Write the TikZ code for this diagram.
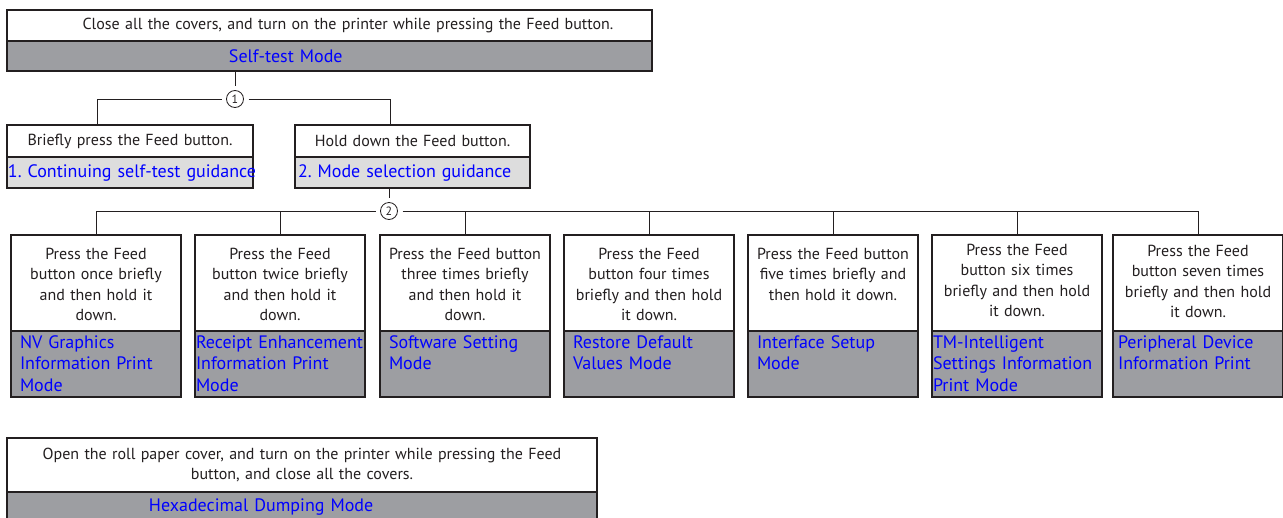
\documentclass[tikz,border=0pt]{standalone}
\usepackage{fontspec}
\setmainfont{PT Sans}
\usetikzlibrary{positioning}
\definecolor{modegray}{RGB}{157,158,162}
\definecolor{guidegray}{RGB}{221,221,221}
\definecolor{modeblue}{RGB}{0,0,255}
\definecolor{inkgray}{RGB}{35,31,32}
\tikzset{
    cell/.style={draw=inkgray, line width=1.2pt, anchor=north west, inner sep=0pt, outer sep=0pt, text=inkgray, font=\fontsize{16}{20.5}\selectfont},
    askcell/.style={cell, fill=white, align=center},
    modecell/.style={cell, fill=modegray, text=modeblue, align=left, font=\fontsize{18}{21.5}\selectfont},
    guidecell/.style={cell, fill=guidegray, text=modeblue, align=left, font=\fontsize{18}{21.5}\selectfont},
    presscell/.style={askcell, text width=162pt, inner xsep=4pt, text height=24pt, text depth=72pt},
    pickcell/.style={modecell, text width=152pt, inner xsep=9pt, text height=17pt, text depth=49pt},
    stepmark/.style={circle, draw=inkgray, line width=0.8pt, inner sep=0pt, minimum size=17pt, outer sep=5pt, text=inkgray, font=\fontsize{12}{12}\selectfont},
    wire/.style={draw=inkgray, line width=1pt}
}

\begin{document}
\begin{tikzpicture}[x=1pt, y=-1pt]
\useasboundingbox (0,0) rectangle (1283,517);

% --- Power on with the Feed button held ---
\node[askcell, text width=645pt, minimum height=31pt] (poweron) at (7,10) {\hspace*{37pt}Close all the covers, and turn on the printer while pressing the Feed button.};
\node[modecell, text width=645pt, minimum height=30pt] (selftest) at (7,41) {\hspace*{222pt}Self-test Mode};

% --- Step 1: short press or long press ---
\node[stepmark] (step1) at (235,99) {1};
\node[askcell, text width=246pt, minimum height=32pt] (briefly) at (7,125) {Briefly press the Feed button.};
\node[guidecell, text width=244pt, inner xsep=1pt, minimum height=31pt, below=0pt of briefly] (guide) {\mbox{1.\ Continuing self-test guidance}};
\node[askcell, text width=235pt, minimum height=32pt] (holddown) at (295,125) {Hold down the Feed button.};
\node[guidecell, text width=229pt, inner xsep=3pt, minimum height=31pt, below=0pt of holddown] (modesel) {\mbox{2.\ Mode selection guidance}};

\draw[wire] (step1) -- (step1 |- selftest.south);
\draw[wire] (step1) -| ([xshift=-33pt]briefly.north);
\draw[wire] (step1) -| ([xshift=-22.5pt]holddown.north);

% --- Step 2: number of presses picks the mode ---
\node[stepmark] (step2) at (389,211) {2};

\node[presscell] (press1) at (11,235) {Press the Feed\\button once briefly\\and then hold it\\down.};
\node[pickcell, below=0pt of press1] (mode1) {NV Graphics\\Information Print\\Mode};

\node[presscell] (press2) at (195,235) {Press the Feed\\button twice briefly\\and then hold it\\down.};
\node[pickcell, text width=168pt, inner xsep=1pt, below=0pt of press2] (mode2) {Receipt Enhancement\\Information Print\\Mode};

\node[presscell] (press3) at (380,235) {Press the Feed button\\three times briefly\\and then hold it\\down.};
\node[pickcell, below=0pt of press3] (mode3) {Software Setting\\Mode};

\node[presscell] (press4) at (564,235) {Press the Feed\\button four times\\briefly and then hold\\it down.};
\node[pickcell, below=0pt of press4] (mode4) {Restore Default\\Values Mode};

\node[presscell] (press5) at (748,235) {Press the Feed button\\five times briefly and\\then hold it down.};
\node[pickcell, below=0pt of press5] (mode5) {Interface Setup\\Mode};

\node[presscell, text height=20pt, text depth=76pt] (press6) at (932,235) {Press the Feed\\button six times\\briefly and then hold\\it down.};
\node[pickcell, text width=168pt, inner xsep=1pt, below=0pt of press6] (mode6) {TM-Intelligent\\Settings Information\\Print Mode};

\node[presscell, text height=21pt, text depth=75pt] (press7) at (1113,235) {Press the Feed\\button seven times\\briefly and then hold\\it down.};
\node[pickcell, text width=160pt, inner xsep=5pt, below=0pt of press7] (mode7) {Peripheral Device\\Information Print};

\draw[wire] (step2) -- (step2 |- modesel.south);
\draw[wire] (step2) -| (press1.north);
\draw[wire] (step2) -| (press7.north);
\draw[wire] (press2.north) -- (press2.north |- step2);
\draw[wire] (press3.north) -- (press3.north |- step2);
\draw[wire] (press4.north) -- (press4.north |- step2);
\draw[wire] (press5.north) -- (press5.north |- step2);
\draw[wire] (press6.north) -- (press6.north |- step2);

% --- Power on with the roll paper cover open ---
\node[askcell, text width=590pt, minimum height=54pt] (rollopen) at (7,438) {Open the roll paper cover, and turn on the printer while pressing the Feed\\button, and close all the covers.};
\node[modecell, text width=590pt, minimum height=30pt, below=0pt of rollopen] (hexdump) {\hspace*{142pt}Hexadecimal Dumping Mode};

\end{tikzpicture}
\end{document}
